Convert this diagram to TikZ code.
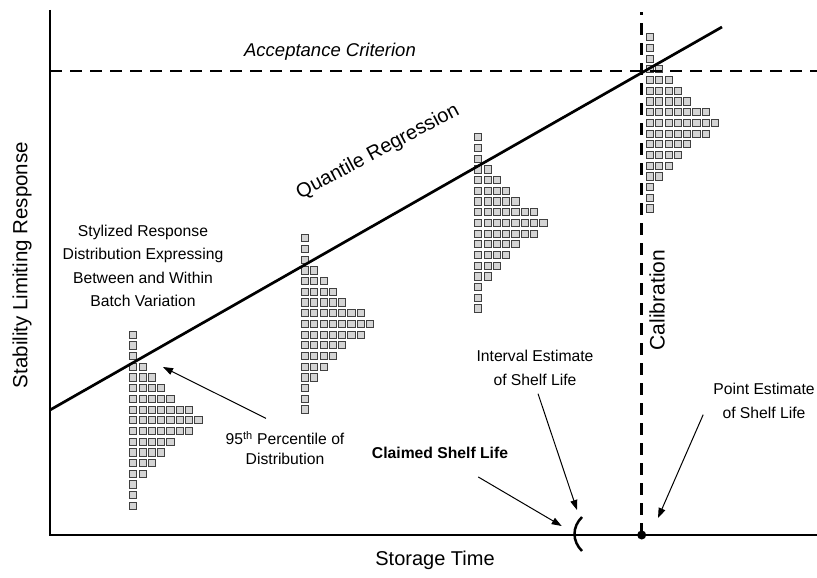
\documentclass[tikz,border=0pt]{standalone}
\usepackage{fontspec}
\setmainfont{Liberation Sans}
\usetikzlibrary{arrows.meta}

\tikzset{
  lbl/.style={align=center, inner sep=0pt, font=\fontsize{15.7}{23.4}\selectfont},
  pointer/.style={-{Triangle[length=10pt,width=7pt]}, line width=1pt},
  axis/.style={line width=2.5pt},
  bar/.style={fill=black!17, draw=black!75, line width=1pt},
  limit/.style={line width=2.5pt, dash pattern=on 12pt off 8pt},
}

\begin{document}
\begin{tikzpicture}[x=1pt,y=-1pt]
  \useasboundingbox (0,0) rectangle (817,578);

  % stylized distributions
  \foreach \hx/\hy in {133.3/334.7, 305/238.3, 478.3/137.3, 650/37.3} {
    \foreach \n [count=\r from 0] in {1,1,1,2,3,4,5,7,8,7,5,4,3,2,1,1,1} {
      \foreach \c in {1,...,\n} {
        \draw[bar] ({\hx+(\c-1)*9.3-3.6},{\hy+\r*10.7-3.6}) rectangle +(7.2,7.2);
      }
    }
  }

  % axes, criterion, calibration
  \draw[axis] (50,10) -- (50,535) -- (817,535);
  \draw[limit] (50,71) -- (817,71);
  \draw[limit] (641.7,535) -- (641.7,12);

  \coordinate (q0) at (50,410);
  \coordinate (q1) at (722,27);
  \draw[line width=2.7pt] (q0) -- (q1);

  \draw[line width=2.5pt] (582,517) .. controls (572,527) and (572,541) .. (582,551);
  \fill (641.7,535) circle (4.5);

  % labels
  \node[lbl, font=\itshape\fontsize{18.5}{22}\selectfont] (accept) at (330,52) {Acceptance Criterion};
  \node[lbl, rotate=28, font=\fontsize{20}{24}\selectfont] (quant) at (378,152) {Quantile Regression};
  \node[lbl, rotate=90, font=\fontsize{21}{24}\selectfont] (calib) at (657,300) {Calibration};
  \node[lbl] (stylized) at (143,266) {Stylized Response\\Distribution Expressing\\Between and Within\\Batch Variation};
  \node[lbl, font=\fontsize{15.7}{19.5}\selectfont] (pctl) at (285,448) {95\textsuperscript{th} Percentile of\\Distribution};
  \node[lbl, font=\bfseries\fontsize{15.7}{19}\selectfont] (claimed) at (440,453) {Claimed Shelf Life};
  \node[lbl] (interval) at (535,368) {Interval Estimate\\of Shelf Life};
  \node[lbl] (point) at (764,401) {Point Estimate\\of Shelf Life};
  \node[lbl, font=\fontsize{20}{24}\selectfont] (xlab) at (435,560) {Storage Time};
  \node[lbl, rotate=90, font=\fontsize{20.5}{24}\selectfont] (ylab) at (22,265) {Stability Limiting Response};

  % pointers
  \coordinate (pctl tip) at (163,367);
  \coordinate (claimed tip) at (561.7,526);
  \coordinate (interval tip) at (577,510);
  \coordinate (point tip) at (658,518);
  \draw[pointer] ([shift={(-19,-13)}]pctl.north) -- (pctl tip);
  \draw[pointer] ([shift={(-30,18)}]claimed.south east) -- (claimed tip);
  \draw[pointer] ([shift={(3,8)}]interval.south) -- (interval tip);
  \draw[pointer] ([shift={(-10,-4)}]point.south west) -- (point tip);
\end{tikzpicture}
\end{document}
